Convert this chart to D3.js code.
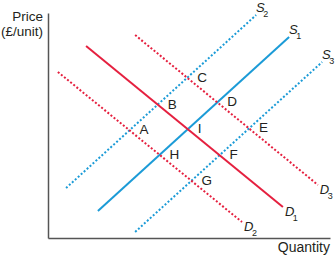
<!DOCTYPE html>
<html>
<head>
<meta charset="utf-8">
<script src="https://cdn.jsdelivr.net/npm/d3@7"></script>
<style>
  body { margin: 0; background: #fff; }
  svg text { font-family: "Liberation Sans", Arial, sans-serif; fill: #231f20; }
</style>
</head>
<body>
<div id="chart"></div>
<script>
// curves as [start, end] in (quantity, price) units, axis 0..100
const supplyNames = ["S1", "S2", "S3"];
const supplyStart = [[17.7, 12.0], [6.4, 22.2], [30.9, 2.7]];
const supplyEnd = [[85.5, 89.3], [73.8, 99.1], [97.2, 78.2]];
const supplyDashed = [false, true, true];

const demandNames = ["D1", "D2", "D3"];
const demandStart = [[13.5, 85.3], [3.5, 73.8], [30.9, 90.2]];
const demandEnd = [[83.3, 13.8], [68.8, 7.1], [95.7, 23.6]];
const demandDashed = [false, true, true];

// equilibrium points: [label, supply index, demand index]
const points = [
  ["A", 1, 1], ["B", 1, 0], ["C", 1, 2],
  ["D", 0, 2], ["I", 0, 0], ["H", 0, 1],
  ["E", 2, 2], ["F", 2, 0], ["G", 2, 1]
];

const width = 335, height = 258;
const red = "#e5203f", blue = "#1b9bd7";

const svg = d3.select("#chart").append("svg")
  .attr("width", width)
  .attr("height", height);

const x = d3.scaleLinear().domain([0, 100]).range([48, 330]);
const y = d3.scaleLinear().domain([0, 100]).range([238, 13]);

// axes without ticks
svg.append("g")
  .attr("transform", "translate(48,0)")
  .call(d3.axisLeft(y).tickValues([]).tickSizeOuter(0))
  .select(".domain").attr("stroke", "#555").attr("stroke-width", 1.5);
svg.append("g")
  .attr("transform", "translate(0,238)")
  .call(d3.axisBottom(x).tickValues([]).tickSizeOuter(0))
  .select(".domain").attr("stroke", "#555").attr("stroke-width", 1.5);

svg.append("text").attr("x", 43).attr("y", 21).attr("text-anchor", "end")
  .style("font-size", "13.5px").text("Price");
svg.append("text").attr("x", 43).attr("y", 36).attr("text-anchor", "end")
  .style("font-size", "13.5px").text("(£/unit)");
svg.append("text").attr("x", 330).attr("y", 252).attr("text-anchor", "end")
  .style("font-size", "14px").text("Quantity");

const curves = [];
supplyNames.forEach((n, i) => curves.push({name: n, a: supplyStart[i], b: supplyEnd[i], dashed: supplyDashed[i], color: blue, dx: 0, dy: -3}));
demandNames.forEach((n, i) => curves.push({name: n, a: demandStart[i], b: demandEnd[i], dashed: demandDashed[i], color: red, dx: 2, dy: 9}));

svg.append("g").selectAll("line")
  .data(curves)
  .enter()
  .append("line")
    .attr("x1", d => x(d.a[0]))
    .attr("y1", d => y(d.a[1]))
    .attr("x2", d => x(d.b[0]))
    .attr("y2", d => y(d.b[1]))
    .attr("stroke", d => d.color)
    .attr("stroke-width", 2)
    .attr("stroke-dasharray", d => d.dashed ? "2,2" : null);

// curve labels with subscript
const lab = svg.append("g").selectAll("text")
  .data(curves)
  .enter()
  .append("text")
    .attr("x", d => x(d.b[0]) + d.dx)
    .attr("y", d => y(d.b[1]) + d.dy)
    .style("font-size", "13px")
    .style("font-style", "italic");
lab.append("tspan").text(d => d.name[0]);
lab.append("tspan").attr("dx", -1.5).attr("dy", 5).style("font-size", "9px").style("font-style", "normal")
  .text(d => d.name.slice(1));

// intersection of a supply and demand line
function meet(s, d) {
  const [x1, y1] = [x(s.a[0]), y(s.a[1])], [x2, y2] = [x(s.b[0]), y(s.b[1])];
  const [x3, y3] = [x(d.a[0]), y(d.a[1])], [x4, y4] = [x(d.b[0]), y(d.b[1])];
  const den = (x1 - x2) * (y3 - y4) - (y1 - y2) * (x3 - x4);
  const t = ((x1 - x3) * (y3 - y4) - (y1 - y3) * (x3 - x4)) / den;
  return [x1 + t * (x2 - x1), y1 + t * (y2 - y1)];
}

svg.append("g").selectAll("text")
  .data(points)
  .enter()
  .append("text")
    .attr("x", d => meet(curves[d[1]], curves[3 + d[2]])[0] + 10)
    .attr("y", d => meet(curves[d[1]], curves[3 + d[2]])[1] + 4)
    .style("font-size", "13.5px")
    .text(d => d[0]);
</script>
</body>
</html>
